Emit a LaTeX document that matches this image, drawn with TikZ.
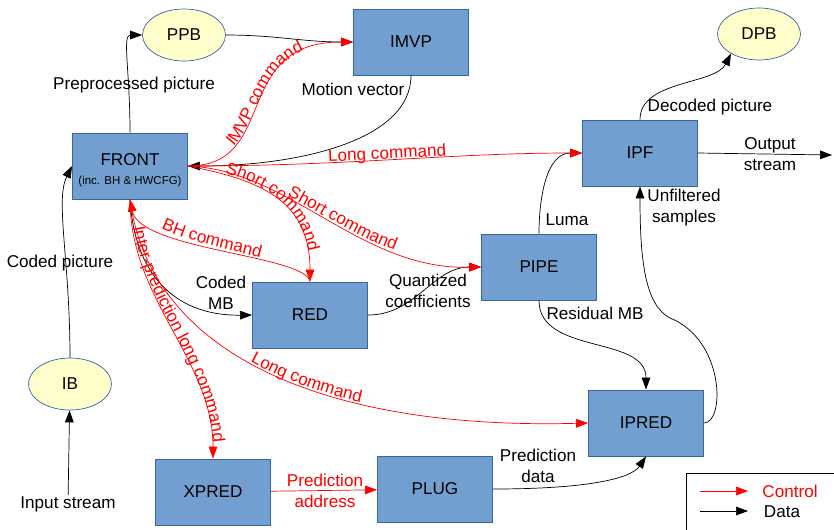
\documentclass[tikz,border=0pt]{standalone}
\usepackage{fontspec}
\setmainfont{Liberation Sans}
\usepackage{tikz}
\usetikzlibrary{arrows.meta,shapes.geometric,decorations.text}
\definecolor{boxblue}{HTML}{729FCF}
\definecolor{boxedge}{HTML}{3465A4}
\definecolor{bufyellow}{HTML}{FFFFCC}
\def\lblfont{\fontsize{14.6}{18}\selectfont}
\def\subtext#1{{\fontsize{9.8}{11}\selectfont #1}}
\tikzstyle{block}=[draw=boxedge,fill=boxblue,line width=0.8pt,minimum width=3.45cm,minimum height=1.98cm,inner sep=0pt,align=center]
\tikzstyle{buffer}=[ellipse,draw=boxedge,fill=bufyellow,line width=0.6pt,minimum width=2.49cm,minimum height=1.56cm,inner sep=0pt]
\tikzstyle{flow}=[line width=0.6pt,>={Triangle[length=3.6mm,width=2.6mm]},->]
\tikzstyle{data}=[flow,draw=black]
\tikzstyle{ctrl}=[flow,draw=red]
\tikzstyle{lbl}=[align=center,inner sep=1pt]
\tikzset{cmd/.style 2 args={postaction={decorate,decoration={text along path,raise=1pt,
    text color=red,text align={left indent=#1},text={|\lblfont|#2}}}}}

\begin{document}
\begin{tikzpicture}[x=0.3mm,y=0.3mm,every node/.style={font=\lblfont}]
    \useasboundingbox (0,0) rectangle (834,-529);
    \clip (0,0) rectangle (834,-529);
    % buffers and units
    \node[buffer] (ppb) at (184,-35) {PPB};
    \node[block] (imvp) at (411,-42) {IMVP};
    \node[buffer] (dpb) at (759,-34) {DPB};
    \node[block] (front) at (130,-166) {\rule{0pt}{18pt}FRONT\\[-2pt]\subtext{(inc. BH \& HWCFG)}};
    \node[block] (ipf) at (640,-153) {IPF};
    \node[block] (pipe) at (539,-267) {PIPE};
    \node[block] (red) at (310,-315) {RED};
    \node[buffer] (ib) at (70,-384) {IB};
    \node[block] (ipred) at (646,-423) {IPRED};
    \node[block] (xpred) at (213,-492) {XPRED};
    \node[block] (plug) at (435,-489) {PLUG};
    \node[lbl] (instream) at (68,-504) {Input stream};
    \coordinate (outstream) at (832,-155);

    % data labels
    \node[lbl] (lpre) at (134,-85) {Preprocessed picture};
    \node[lbl] (lmv) at (353,-89) {Motion vector};
    \node[lbl] (lcoded) at (60,-263) {Coded picture};
    \node[lbl] (lmb) at (221,-293) {Coded\\MB};
    \node[lbl] (lquant) at (428,-291) {Quantized\\coefficients};
    \node[lbl] (lluma) at (567,-220) {Luma};
    \node[lbl] (ldec) at (710,-107) {Decoded picture};
    \node[lbl] (lout) at (770,-154) {Output\\stream};
    \node[lbl] (lres) at (595,-313) {Residual MB};
    \node[lbl] (lunf) at (684,-208) {Unfiltered\\samples};
    \node[lbl,text=red] (laddr) at (325,-491) {Prediction\\address};
    \node[lbl] (lpdata) at (538,-466) {Prediction\\data};

    % data flow
    \draw[data] (instream) -- (ib);
    \draw[data] (ib.north) .. controls (70,-260) and (55,-200) .. (front.west);
    \draw[data] (front.north) .. controls (130,-70) and (122,-35) .. (ppb.west);
    \draw[data] (ppb.east) to[out=0,in=180] (imvp.west);
    \draw[data] (imvp.south) .. controls (411,-140) and (300,-166) .. (front.east);
    \draw[data] (front.south) .. controls (135,-280) and (180,-316) .. (red.west);
    \draw[data] (red.east) to[out=0,in=180] (pipe.west);
    \draw[data] (pipe.north) to[out=90,in=180] (ipf.west);
    \draw[data] (ipf.north) .. controls (640,-80) and (715,-85) .. (dpb.215);
    \draw[data] (ipf.east) -- (outstream);
    \draw[data] (pipe.south) to[out=-90,in=90] (ipred.north);
    \draw[data] (ipred.east) .. controls (725,-423) and (725,-340) .. (670,-318)
        .. controls (645,-305) and (640,-260) .. (ipf.south);
    \draw[data] (plug.east) .. controls (580,-489) and (630,-480) .. (ipred.south);

    % control flow
    \draw[ctrl,cmd={44pt}{IMVP command}] (front.east) .. controls (280,-166) and (230,-42) .. (imvp.west);
    \draw[ctrl,cmd={120pt}{Long command}] (front.east) .. controls (350,-166) and (450,-153) .. (ipf.west);
    \draw[ctrl,cmd={32pt}{Short command}] (front.east) .. controls (260,-180) and (310,-200) .. (red.north);
    \draw[ctrl,cmd={89pt}{Short command}] (front.east) .. controls (290,-170) and (360,-270) .. (pipe.west);
    \draw[ctrl,<-,cmd={38pt}{BH command}] (front.south) .. controls (140,-250) and (305,-255) .. (red.north);
    \draw[ctrl,cmd={24pt}{Inter-prediction long command}] (front.south) .. controls (130,-300) and (213,-360) .. (xpred.north);
    \draw[ctrl,cmd={180pt}{Long command}] (front.south) .. controls (150,-352) and (320,-430) .. (ipred.west);
    \draw[ctrl] (xpred) -- (plug);

    % legend
    \draw[line width=0.6pt] (686,-473) rectangle (850,-540);
    \coordinate (ctrla) at (700,-491);
    \coordinate (ctrlb) at (748,-491);
    \coordinate (dataa) at (700,-511);
    \coordinate (datab) at (748,-511);
    \node[lbl,text=red] (lctrl) at (790,-491) {Control};
    \node[lbl] (ldata) at (782,-512) {Data};
    \draw[ctrl] (ctrla) -- (ctrlb);
    \draw[data] (dataa) -- (datab);
\end{tikzpicture}
\end{document}
